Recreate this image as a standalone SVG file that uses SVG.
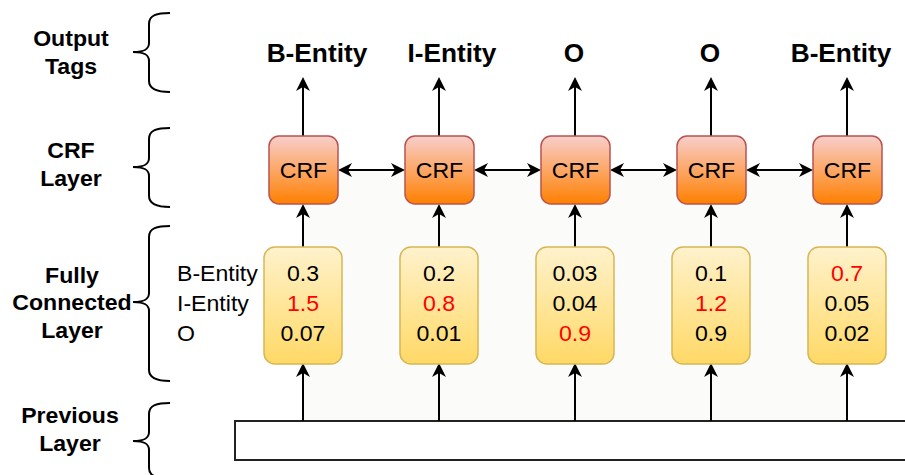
<svg xmlns="http://www.w3.org/2000/svg" width="905" height="475" viewBox="0 0 905 475">
  <style>
    text { font-family: "Liberation Sans", Arial, Helvetica, sans-serif; fill: #000; }
    .sx { transform-box: fill-box; transform-origin: center; transform: scaleX(1.05); }
    .sxl { transform-box: fill-box; transform-origin: 0% 50%; transform: scaleX(1.05); }
    .tag { font-size: 25px; font-weight: bold; text-anchor: middle; }
    .side { font-size: 22px; font-weight: bold; text-anchor: middle; }
    .val { font-size: 22px; text-anchor: middle; }
    .row { font-size: 22px; text-anchor: start; }
    .hi { fill: #ff0000; }
    .crf rect { fill: url(#crfFill); stroke: #b85450; stroke-width: 1.5; }
    .crf text { font-size: 22px; text-anchor: middle; }
    .fc rect { fill: url(#fcFill); stroke: #d6b656; stroke-width: 1.5; }
    .brace { fill: none; stroke: #000; stroke-width: 2; }
    .edge { fill: none; stroke: #000; stroke-width: 2; }
    .up { marker-end: url(#head); }
    .both { marker-start: url(#head); marker-end: url(#head); }
  </style>
  <defs>
    <linearGradient id="crfFill" x1="0" y1="0" x2="0" y2="1">
      <stop offset="0" stop-color="#f8cecc"/>
      <stop offset="1" stop-color="#ff8000"/>
    </linearGradient>
    <linearGradient id="fcFill" x1="0" y1="0" x2="0" y2="1">
      <stop offset="0" stop-color="#fff2cc"/>
      <stop offset="1" stop-color="#ffd966"/>
    </linearGradient>
    <marker id="head" markerUnits="userSpaceOnUse" viewBox="-5 -8 16 16" refX="0" refY="0" markerWidth="16" markerHeight="16" orient="auto-start-reverse">
      <path d="M10,0 L-4,-7 L0,0 L-4,7 Z" fill="#000"/>
    </marker>
  </defs>

  <rect width="905" height="475" fill="#ffffff"/>
  <!-- faint panel behind the network body -->
  <rect x="303" y="171" width="544" height="250" fill="#fbfbf9"/>

  <!-- layer captions with braces -->
  <g id="caption-output">
    <text class="side sx" x="71" y="46">Output</text>
    <text class="side sx" x="71" y="74">Tags</text>
    <path class="brace" d="M170,13 C157,13 149,15 149,24 L149,43 C149,49 145,52 133,52 C145,52 149,55 149,61 L149,81 C149,89 157,92 170,92"/>
  </g>
  <g id="caption-crf">
    <text class="side sx" x="71" y="158">CRF</text>
    <text class="side sx" x="71" y="186">Layer</text>
    <path class="brace" d="M170,128 C157,128 149,130 149,139 L149,158 C149,164 145,167 133,167 C145,167 149,170 149,176 L149,196 C149,204 157,207 170,207"/>
  </g>
  <g id="caption-fc">
    <text class="side sx" x="72" y="283">Fully</text>
    <text class="side sx" x="72" y="310">Connected</text>
    <text class="side sx" x="72" y="338">Layer</text>
    <path class="brace" d="M170,226 C157,226 149,228 149,237 L149,293 C149,299 145,302 133,302 C145,302 149,305 149,311 L149,370 C149,378 157,381 170,381"/>
  </g>
  <g id="caption-prev">
    <text class="side sx" x="70" y="423">Previous</text>
    <text class="side sx" x="70" y="451">Layer</text>
    <path class="brace" d="M170,403 C157,403 149,405 149,414 L149,432 C149,438 145,441 133,441 C145,441 149,444 149,450 L149,468 C149,476 157,479 170,479"/>
  </g>

  <!-- row names of the score vectors -->
  <g id="row-names">
    <text class="row sxl" x="177" y="281">B-Entity</text>
    <text class="row sxl" x="177" y="311">I-Entity</text>
    <text class="row sxl" x="177" y="341">O</text>
  </g>

  <!-- previous layer -->
  <g id="prev-layer">
    <rect x="235" y="421" width="700" height="39" fill="#ffffff" stroke="#222" stroke-width="2"/>
  </g>

  <!-- connectors -->
  <g id="connectors">
    <path class="edge up" d="M303,421 V373"/>
    <path class="edge up" d="M439,421 V373"/>
    <path class="edge up" d="M575,421 V373"/>
    <path class="edge up" d="M711,421 V373"/>
    <path class="edge up" d="M847,421 V373"/>

    <path class="edge up" d="M303,247 V214"/>
    <path class="edge up" d="M439,247 V214"/>
    <path class="edge up" d="M575,247 V214"/>
    <path class="edge up" d="M711,247 V214"/>
    <path class="edge up" d="M847,247 V214"/>

    <path class="edge up" d="M303,136 V87"/>
    <path class="edge up" d="M439,136 V87"/>
    <path class="edge up" d="M575,136 V87"/>
    <path class="edge up" d="M711,136 V87"/>
    <path class="edge up" d="M847,136 V87"/>

    <path class="edge both" d="M348,170 H395"/>
    <path class="edge both" d="M484,170 H531"/>
    <path class="edge both" d="M620,170 H667"/>
    <path class="edge both" d="M756,170 H803"/>
  </g>

  <!-- fully connected score vectors -->
  <g id="fc-1" class="fc">
    <rect x="264" y="247" width="78" height="117" rx="11"/>
    <text class="val sx" x="303" y="281">0.3</text>
    <text class="val sx hi" x="303" y="311">1.5</text>
    <text class="val sx" x="303" y="341">0.07</text>
  </g>
  <g id="fc-2" class="fc">
    <rect x="400" y="247" width="78" height="117" rx="11"/>
    <text class="val sx" x="439" y="281">0.2</text>
    <text class="val sx hi" x="439" y="311">0.8</text>
    <text class="val sx" x="439" y="341">0.01</text>
  </g>
  <g id="fc-3" class="fc">
    <rect x="536" y="247" width="78" height="117" rx="11"/>
    <text class="val sx" x="575" y="281">0.03</text>
    <text class="val sx" x="575" y="311">0.04</text>
    <text class="val sx hi" x="575" y="341">0.9</text>
  </g>
  <g id="fc-4" class="fc">
    <rect x="672" y="247" width="78" height="117" rx="11"/>
    <text class="val sx" x="711" y="281">0.1</text>
    <text class="val sx hi" x="711" y="311">1.2</text>
    <text class="val sx" x="711" y="341">0.9</text>
  </g>
  <g id="fc-5" class="fc">
    <rect x="808" y="247" width="78" height="117" rx="11"/>
    <text class="val sx hi" x="847" y="281">0.7</text>
    <text class="val sx" x="847" y="311">0.05</text>
    <text class="val sx" x="847" y="341">0.02</text>
  </g>

  <!-- CRF nodes -->
  <g id="crf-1" class="crf">
    <rect x="269" y="136" width="69" height="68" rx="10"/>
    <text class="sx" x="303.5" y="178">CRF</text>
  </g>
  <g id="crf-2" class="crf">
    <rect x="405" y="136" width="69" height="68" rx="10"/>
    <text class="sx" x="439.5" y="178">CRF</text>
  </g>
  <g id="crf-3" class="crf">
    <rect x="541" y="136" width="69" height="68" rx="10"/>
    <text class="sx" x="575.5" y="178">CRF</text>
  </g>
  <g id="crf-4" class="crf">
    <rect x="677" y="136" width="69" height="68" rx="10"/>
    <text class="sx" x="711.5" y="178">CRF</text>
  </g>
  <g id="crf-5" class="crf">
    <rect x="813" y="136" width="69" height="68" rx="10"/>
    <text class="sx" x="847.5" y="178">CRF</text>
  </g>

  <!-- output tags -->
  <g id="tag-1"><text class="tag sx" x="317" y="62">B-Entity</text></g>
  <g id="tag-2"><text class="tag sx" x="452" y="62">I-Entity</text></g>
  <g id="tag-3"><text class="tag sx" x="574" y="62">O</text></g>
  <g id="tag-4"><text class="tag sx" x="710" y="62">O</text></g>
  <g id="tag-5"><text class="tag sx" x="841" y="62">B-Entity</text></g>
</svg>
